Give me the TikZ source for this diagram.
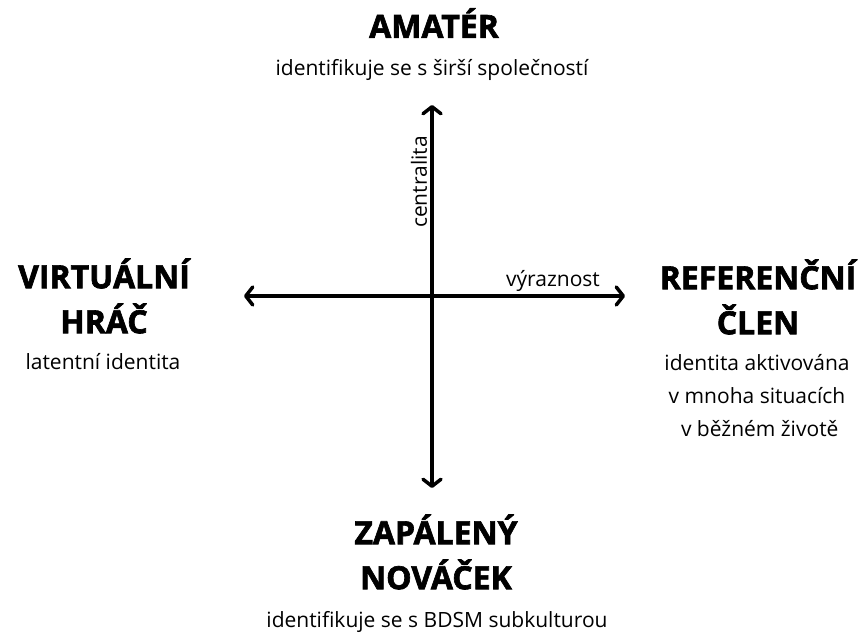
\documentclass[tikz,border=0pt]{standalone}
\usepackage{fontspec}
\setmainfont{Open Sans}[BoldFeatures={FakeBold=2}]
\usetikzlibrary{arrows.meta,positioning}

\gdef\Hsize{\fontsize{32}{45}\selectfont\bfseries}
\gdef\Ssize{\fontsize{21}{33}\selectfont}

\begin{document}
\begin{tikzpicture}[x=1pt, y=1pt,
  head/.style={align=center, inner sep=0pt, font=\Hsize},
  sub/.style={align=center, inner sep=0pt, font=\Ssize},
  axis/.style={line width=3.5pt, {Straight Barb[length=7pt,width=18pt,round]}-{Straight Barb[length=7pt,width=18pt,round]}}]
\useasboundingbox (0,0) rectangle (861,634);
% axes
\coordinate (O) at (432,338);
\coordinate (top) at (432,529);
\coordinate (bot) at (432,146);
\coordinate (left) at (244,338);
\coordinate (right) at (625,338);
\draw[axis] (bot) -- (top);
\draw[axis] (left) -- (right);
\node[sub, rotate=90] (cent) at (419,452) {centralita};
\node[sub] (vyr) at (553,353) {výraznost};
% quadrant labels
\node[head] (A) at (434,611) {AMATÉR};
\node[sub] (a) at (432,564) {identifikuje se s širší společností};
\node[head] (V) at (104,338) {VIRTUÁLNÍ\\HRÁČ};
\node[sub] (v) at (103,272) {latentní identita};
\node[head] (R) at (758,337) {REFERENČNÍ\\ČLEN};
\node[sub] (r) at (757,238) {identita aktivována\\v mnoha situacích\\\ v běžném životě};
\node[head] (Z) at (436,82) {ZAPÁLENÝ\\NOVÁČEK};
\node[sub] (z) at (437,12) {identifikuje se s BDSM subkulturou};
\end{tikzpicture}
\end{document}
